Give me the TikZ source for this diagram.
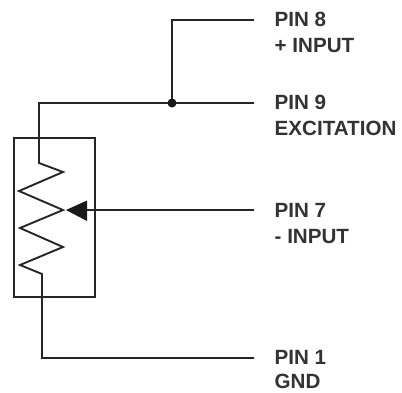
\documentclass[tikz,border=0pt]{standalone}
\usepackage{fontspec}
\setmainfont{Liberation Sans}
\tikzset{
  wire/.style={draw=black!85, line width=1.9pt, line join=miter},
  lab/.style={anchor=base west, inner sep=0pt, font=\fontsize{20.6}{24}\selectfont\bfseries, text=black!80},
}
\begin{document}
\begin{tikzpicture}[x=1pt,y=-1pt]
\useasboundingbox (0,0) rectangle (402,392);
\coordinate (p8) at (254,20);
\coordinate (p9) at (254,103);
\coordinate (p7) at (254,210);
\coordinate (p1) at (254,358);
\coordinate (j) at (172,103);
\coordinate (tip) at (66,210);
\coordinate (topc) at (39,103);
\coordinate (botc) at (42,358);
\node[wire, draw, rectangle, minimum width=81pt, minimum height=159pt, inner sep=0pt] (box) at (54.5,217.5) {};
\draw[wire] (p9) -- (topc) -- (39,163) -- (63,172) -- (19,191) -- (63,210) -- (20,228) -- (63,247) -- (20,265) -- (42,274) -- (botc) -- (p1);
\draw[wire] (j) -- (172,20) -- (p8);
\draw[wire] (p7) -- (87,210);
\fill[black!90] (tip) -- (87,200.5) -- (87,221) -- cycle;
\fill[black!90] (j) circle (4.5);
\node[lab] (l8a) at (274.5,26) {PIN 8};
\node[lab] (l8b) at (274.5,52) {+ INPUT};
\node[lab] (l9a) at (274.5,109) {PIN 9};
\node[lab] (l9b) at (274.5,135) {EXCITATION};
\node[lab] (l7a) at (274.5,217) {PIN 7};
\node[lab] (l7b) at (274.5,243) {- INPUT};
\node[lab] (l1a) at (274.5,364) {PIN 1};
\node[lab] (l1b) at (274.5,388.5) {GND};
\end{tikzpicture}
\end{document}
